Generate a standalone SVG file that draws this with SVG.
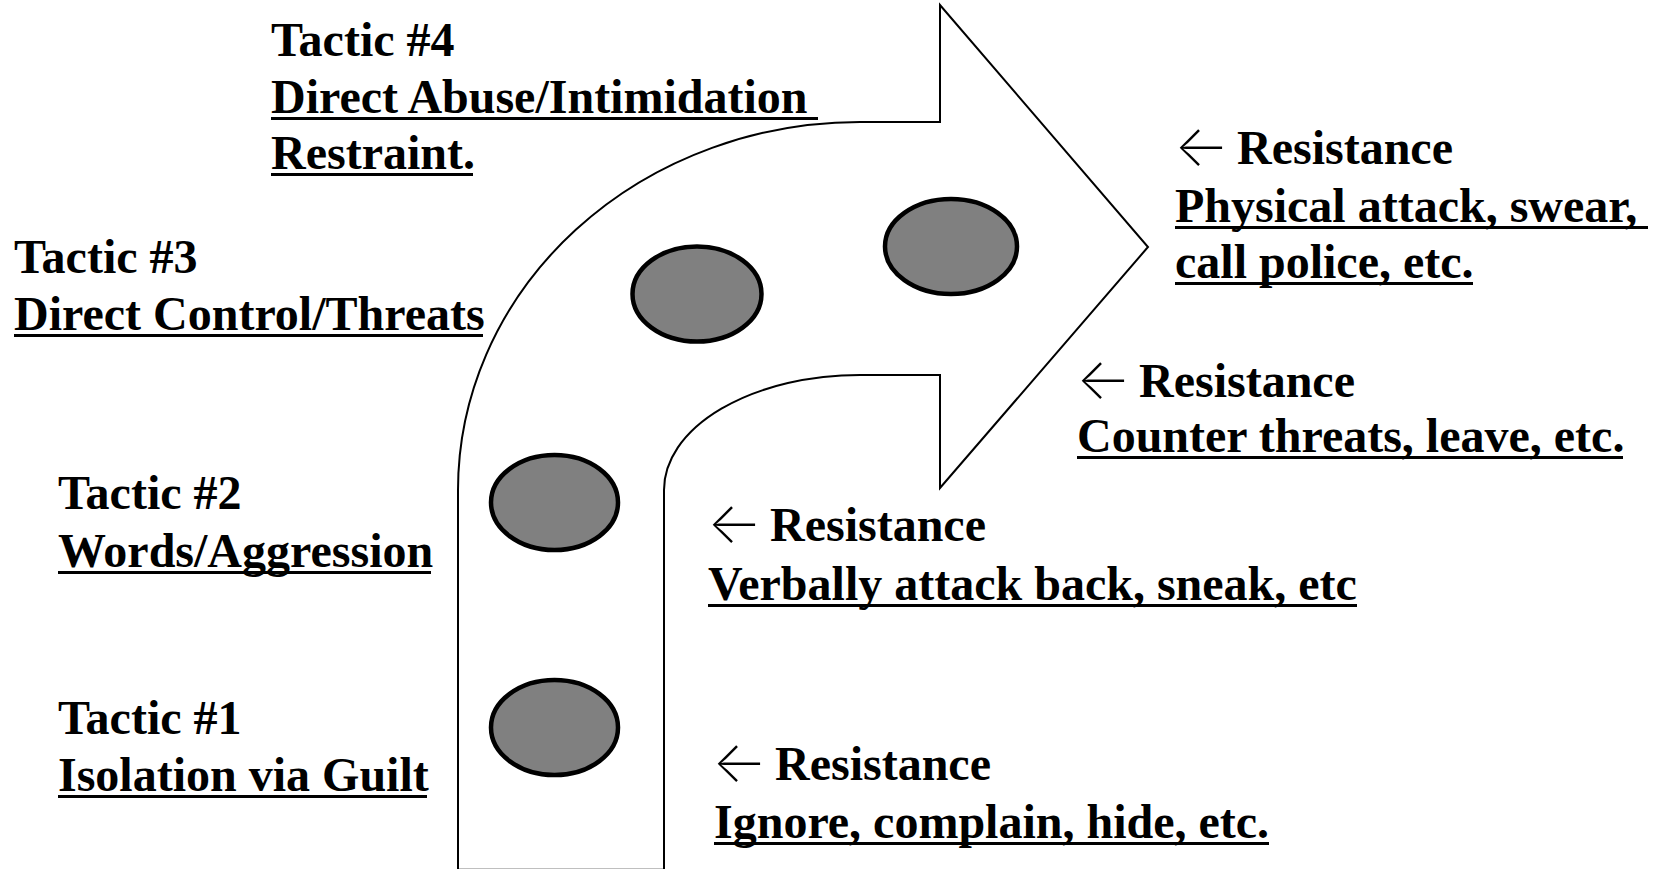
<svg xmlns="http://www.w3.org/2000/svg" width="1665" height="869" viewBox="0 0 1665 869">
  <style>
    .t { font-family: "Liberation Serif", "Times New Roman", serif; font-weight: bold; font-size: 48px; fill: #000; }
    .ar { font-family: Inter, "DejaVu Sans", sans-serif; font-weight: 200; font-size: 58px; }
    .ul { fill: #000; }
    .dot { fill: #808080; stroke: #000; stroke-width: 4.5; }
    .arrow { fill: #fff; stroke: #000; stroke-width: 2; }
  </style>
  <rect width="1665" height="869" fill="#fff"/>
  <g id="bent-arrow">
    <path class="arrow" d="M 458 869.8 L 458 490 A 402 368 0 0 1 860 122 L 940 122 L 940 5 L 1148 247 L 940 488 L 940 375 L 860 375 A 196 115 0 0 0 664 490 L 664 869.8 Z"/>
  </g>
  <g id="connectors"></g>
  <g id="dot1"><ellipse class="dot" cx="554.5" cy="727.5" rx="63.5" ry="47.5"/></g>
  <g id="dot2"><ellipse class="dot" cx="554.5" cy="502.5" rx="63.5" ry="47.5"/></g>
  <g id="dot3"><ellipse class="dot" cx="697" cy="294" rx="64.5" ry="47.5"/></g>
  <g id="dot4"><ellipse class="dot" cx="951" cy="246.5" rx="66" ry="47.5"/></g>

  <g id="tactic4">
    <text class="t" x="271" y="56">Tactic #4</text>
    <text class="t" x="271" y="113">Direct Abuse/Intimidation</text>
    <rect class="ul" x="271" y="117" width="547" height="3"/>
    <text class="t" x="271" y="169">Restraint.</text>
    <rect class="ul" x="271" y="173" width="202" height="3"/>
  </g>
  <g id="tactic3">
    <text class="t" x="14" y="273">Tactic #3</text>
    <text class="t" x="14" y="330">Direct Control/Threats</text>
    <rect class="ul" x="14" y="334" width="469" height="3"/>
  </g>
  <g id="tactic2">
    <text class="t" x="58" y="509">Tactic #2</text>
    <text class="t" x="58" y="567">Words/Aggression</text>
    <rect class="ul" x="58" y="571" width="373" height="3"/>
  </g>
  <g id="tactic1">
    <text class="t" x="58" y="734">Tactic #1</text>
    <text class="t" x="58" y="791">Isolation via Guilt</text>
    <rect class="ul" x="58" y="795" width="369" height="3"/>
  </g>

  <g id="resistance4">
    <text class="t"><tspan class="ar" x="1174" y="166">←</tspan><tspan x="1237" y="164">Resistance</tspan></text>
    <text class="t" x="1175" y="222">Physical attack, swear,</text>
    <rect class="ul" x="1175" y="226" width="473" height="3"/>
    <text class="t" x="1175" y="278">call police, etc.</text>
    <rect class="ul" x="1175" y="282" width="298" height="3"/>
  </g>
  <g id="resistance3">
    <text class="t"><tspan class="ar" x="1076" y="399">←</tspan><tspan x="1139" y="397">Resistance</tspan></text>
    <text class="t" x="1077" y="452">Counter threats, leave, etc.</text>
    <rect class="ul" x="1077" y="456" width="546" height="3"/>
  </g>
  <g id="resistance2">
    <text class="t"><tspan class="ar" x="707" y="543">←</tspan><tspan x="770" y="541">Resistance</tspan></text>
    <text class="t" x="708" y="600">Verbally attack back, sneak, etc</text>
    <rect class="ul" x="708" y="604" width="649" height="3"/>
  </g>
  <g id="resistance1">
    <text class="t"><tspan class="ar" x="712" y="782">←</tspan><tspan x="775" y="780">Resistance</tspan></text>
    <text class="t" x="714" y="838">Ignore, complain, hide, etc.</text>
    <rect class="ul" x="714" y="842" width="555" height="3"/>
  </g>
</svg>
